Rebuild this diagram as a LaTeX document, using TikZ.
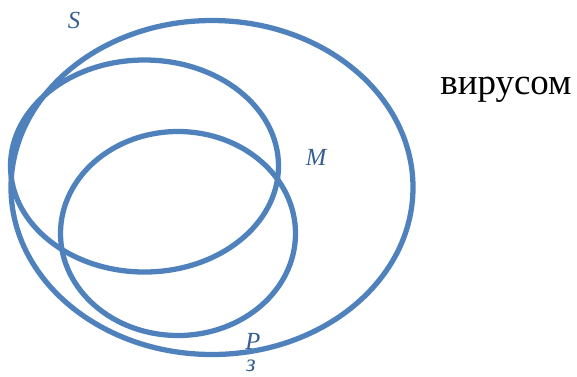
\documentclass[tikz,border=0pt]{standalone}
\usepackage{fontspec}
\setmainfont{Liberation Serif}
\usetikzlibrary{positioning}
\definecolor{setblue}{RGB}{79,129,189}
\definecolor{labblue}{RGB}{54,95,145}

\begin{document}
\begin{tikzpicture}[
    x=0.02cm, y=-0.02cm,
    setline/.style={draw=setblue, line width=3pt},
    setlabel/.style={text=labblue, font=\fontsize{14}{16}\selectfont\itshape, inner sep=0pt}
]
    \useasboundingbox (0,0) rectangle (577,376);

    % множества
    \draw[setline] (212,187.5) ellipse [x radius=201, y radius=167];
    \draw[setline] (144.5,166) ellipse [x radius=134, y radius=106];
    \draw[setline] (178,233.5) ellipse [x radius=117.5, y radius=102];

    % подписи
    \node[setlabel] (labS) at (74,20) {S};
    \node[setlabel] (labM) at (316,157) {M};
    \node[setlabel] (labP) at (253,341) {P};
    \node[setlabel] (labZ) at (251,366) {з};
    \node[font=\fontsize{21}{24}\selectfont, inner sep=0pt] (virus) at (506,90) {вирусом};
\end{tikzpicture}
\end{document}
